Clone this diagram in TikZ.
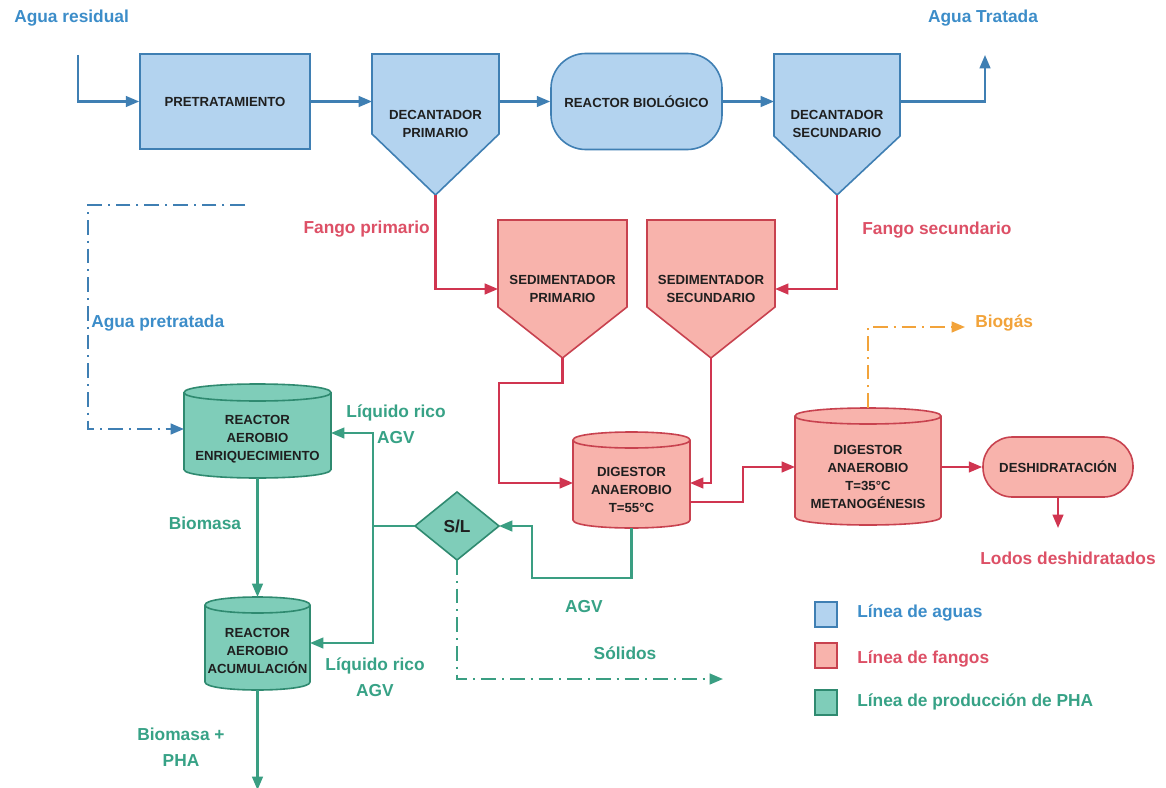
\documentclass[tikz,border=0pt]{standalone}
\usepackage{fontspec}
\setmainfont{Liberation Sans}
\usetikzlibrary{arrows.meta,calc}

\definecolor{wblue}{HTML}{B3D3EF}
\definecolor{wbluedraw}{HTML}{3F7FB3}
\definecolor{wbluetext}{HTML}{3C8DC9}
\definecolor{sred}{HTML}{F8B3AC}
\definecolor{sreddraw}{HTML}{C8424F}
\definecolor{sredline}{HTML}{D03550}
\definecolor{sredtext}{HTML}{DD5066}
\definecolor{pgreen}{HTML}{7FCDB9}
\definecolor{pgreendraw}{HTML}{2F8A70}
\definecolor{pgreenline}{HTML}{3A9E82}
\definecolor{pgreentext}{HTML}{37A286}
\definecolor{borange}{HTML}{F2A33A}

% Hopper-bottomed settler: name, left, right, top, side bottom, tip y, style, text y, text
\newcommand{\hopper}[9]{%
  \path[#7] (#2,#4) -- (#3,#4) -- (#3,#5) -- ({(#2+#3)/2},#6) -- (#2,#5) -- cycle;
  \coordinate (#1-nw) at (#2,#4);
  \coordinate (#1-ne) at (#3,#4);
  \coordinate (#1-tip) at ({(#2+#3)/2},#6);
  \node[boxtext] (#1) at ({(#2+#3)/2},#8) {#9};
}

% Upright tank: name, left, right, top, bottom, rim half-height, style, text y, text
\newcommand{\tank}[9]{%
  \path[#7] (#2,#4+#6) -- (#2,#5-#6)
     .. controls (#2,#5+0.333*#6) and (#3,#5+0.333*#6) .. (#3,#5-#6)
     -- (#3,#4+#6)
     .. controls (#3,#4-0.333*#6) and (#2,#4-0.333*#6) .. (#2,#4+#6) -- cycle;
  \path[#7,fill=none] (#2,#4+#6)
     .. controls (#2,#4+2.333*#6) and (#3,#4+2.333*#6) .. (#3,#4+#6);
  \coordinate (#1-nw) at (#2,#4);
  \coordinate (#1-ne) at (#3,#4);
  \coordinate (#1-n) at ({(#2+#3)/2},#4);
  \coordinate (#1-s) at ({(#2+#3)/2},#5);
  \node[boxtext] (#1) at ({(#2+#3)/2},#8) {#9};
}

\begin{document}
\begin{tikzpicture}[x=0.75pt,y=-0.75pt,
  boxtext/.style={font=\fontsize{9.9}{13.5}\selectfont\bfseries, align=center, text=black!88, inner sep=0pt},
  lbl/.style={font=\fontsize{13}{19.5}\selectfont\bfseries, align=center, inner sep=0pt},
  tip/.style={-{Triangle[length=10pt,width=8pt]}},
  wshape/.style={fill=wblue, draw=wbluedraw, line width=1.2pt},
  rshape/.style={fill=sred, draw=sreddraw, line width=1.2pt},
  gshape/.style={fill=pgreen, draw=pgreendraw, line width=1.2pt},
  wflow/.style={tip, draw=wbluedraw, line width=1.6pt},
  rflow/.style={tip, draw=sredline, line width=1.6pt},
  gflow/.style={tip, draw=pgreenline, line width=1.6pt},
  gline/.style={draw=pgreenline, line width=1.6pt},
  oflow/.style={tip, draw=borange, line width=1.6pt},
  dashdot/.style={dash pattern=on 11pt off 4.5pt on 1.5pt off 4.5pt},
  legbox/.style={minimum width=16.5pt, minimum height=18.75pt, inner sep=0pt, line width=1.2pt}
]
\fill[white] (0,0) rectangle (1166,788);
\useasboundingbox (0,0) rectangle (1166,788);

% ---------------- water line ----------------
\node[wshape, boxtext, minimum width=127.5pt, minimum height=71.25pt] (pre) at (225,101.5) {PRETRATAMIENTO};
\hopper{decP}{372}{499}{54}{134}{195}{wshape}{124}{DECANTADOR\\PRIMARIO}
\node[wshape, boxtext, rounded corners=26pt, minimum width=128.25pt, minimum height=72pt] (reac) at (636.5,101.5) {REACTOR BIOLÓGICO};
\hopper{decS}{774}{900}{54}{136}{195}{wshape}{124}{DECANTADOR\\SECUNDARIO}

\coordinate (in-start) at (78,55);
\coordinate (out-end) at (985,55);
\draw[wflow] (in-start) |- (pre.west);
\draw[wflow] (pre.east) -- (pre.east -| decP-nw);
\draw[wflow] (pre.east -| decP-ne) -- (reac.west);
\draw[wflow] (reac.east) -- (reac.east -| decS-nw);
\draw[wflow] (reac.east -| decS-ne) -| (out-end);

\node[lbl, text=wbluetext, anchor=west] (lin) at (14,18) {Agua residual};
\node[lbl, text=wbluetext] (lout) at (983,18) {Agua Tratada};

% ---------------- sludge line ----------------
\hopper{sedP}{498}{627}{220}{307}{358}{rshape}{289}{SEDIMENTADOR\\PRIMARIO}
\hopper{sedS}{647}{775}{220}{307}{358}{rshape}{289}{SEDIMENTADOR\\SECUNDARIO}
\tank{dig55}{573}{690}{432}{528}{8}{rshape}{490}{DIGESTOR\\ANAEROBIO\\T=55°C}
\tank{dig35}{795}{941}{408}{525}{8}{rshape}{477}{DIGESTOR\\ANAEROBIO\\T=35°C\\METANOGÉNESIS}
\node[rshape, boxtext, rounded corners=22pt, minimum width=112.5pt, minimum height=45pt] (desh) at (1058,467) {DESHIDRATACIÓN};

\coordinate (jogA) at (499,383);
\coordinate (dig55-inL) at (573,483);
\coordinate (dig55-inR) at (690,483);
\coordinate (dig55-out) at (690,502);
\coordinate (jogB) at (743,467);
\coordinate (dig35-in) at (795,467);
\coordinate (dig35-out) at (941,467);
\coordinate (lodos-end) at (1058,528);
\coordinate (biogas-end) at (965,327);

\draw[rflow] (decP-tip) |- (sedP -| sedP-nw);
\draw[rflow] (decS-tip) |- (sedS -| sedS-ne);
\draw[rflow] (sedP-tip) |- (jogA) |- (dig55-inL);
\draw[rflow] (sedS-tip) |- (dig55-inR);
\draw[rflow] (dig55-out) -| (jogB) -- (dig35-in);
\draw[rflow] (dig35-out) -- (desh.west);
\draw[rflow] (desh.south) -- (lodos-end);
\draw[oflow, dashdot] (dig35-n) |- (biogas-end);

\node[lbl, text=sredtext, anchor=east] (lfp) at (430,229) {Fango primario};
\node[lbl, text=sredtext, anchor=west] (lfs) at (862,230) {Fango secundario};
\node[lbl, text=borange, anchor=west] (lbio) at (975,323) {Biogás};
\node[lbl, text=sredtext] (llod) at (1068,558) {Lodos deshidratados};

% ---------------- PHA line ----------------
\tank{enriq}{184}{331}{384}{478}{8.5}{gshape}{439}{REACTOR\\AEROBIO\\ENRIQUECIMIENTO}
\tank{acum}{205}{310}{597}{690}{8}{gshape}{651}{REACTOR\\AEROBIO\\ACUMULACIÓN}
\path[gshape] (415,526) -- (457,492) -- (499,526) -- (457,560) -- cycle;
\coordinate (sl-w) at (415,526);
\coordinate (sl-e) at (499,526);
\coordinate (sl-s) at (457,560);
\node[boxtext, font=\fontsize{13}{15}\selectfont\bfseries] (sl) at (457,526) {S/L};

\coordinate (jogC) at (532,578);
\coordinate (split) at (373,526);
\coordinate (enriq-inR) at (331,433);
\coordinate (acum-inR) at (310,643);
\coordinate (pha-end) at (257.5,790);
\coordinate (solid-end) at (723,679);
\coordinate (pret-start) at (245,205);
\coordinate (pret-bend) at (88,429);
\coordinate (enriq-inL) at (184,429);

\draw[gflow] (enriq-s) -- (acum-n);
\draw[gflow] (dig55-s) |- (jogC) |- (sl-e);
\draw[gline] (sl-w) -- (split);
\draw[gflow] (split) |- (enriq-inR);
\draw[gflow] (split) |- (acum-inR);
\draw[gflow] (acum-s) -- (pha-end);
\draw[gflow, dashdot] (sl-s) |- (solid-end);
\draw[wflow, dashdot] (pret-start) -| (pret-bend) -- (enriq-inL);

\node[lbl, text=wbluetext, anchor=west] (lpret) at (91,323) {Agua pretratada};
\node[lbl, text=pgreentext] (lliq1) at (396,424) {Líquido rico\\AGV};
\node[lbl, text=pgreentext] (lbm) at (205,523) {Biomasa};
\node[lbl, text=pgreentext] (lliq2) at (375,677) {Líquido rico\\AGV};
\node[lbl, text=pgreentext] (lbmp) at (181,747) {Biomasa +\\PHA};
\node[lbl, text=pgreentext] (lagv) at (584,607) {AGV};
\node[lbl, text=pgreentext] (lsol) at (625,653) {Sólidos};

% ---------------- legend ----------------
\node[legbox, fill=wblue, draw=wbluedraw] (k1) at (826,614.5) {};
\node[legbox, fill=sred, draw=sreddraw] (k2) at (826,655.5) {};
\node[legbox, fill=pgreen, draw=pgreendraw] (k3) at (826,702.5) {};
\node[lbl, text=wbluetext, anchor=west] (k1t) at (857,613) {Línea de aguas};
\node[lbl, text=sredtext, anchor=west] (k2t) at (857,659) {Línea de fangos};
\node[lbl, text=pgreentext, anchor=west] (k3t) at (857,702) {Línea de producción de PHA};
\end{tikzpicture}
\end{document}
